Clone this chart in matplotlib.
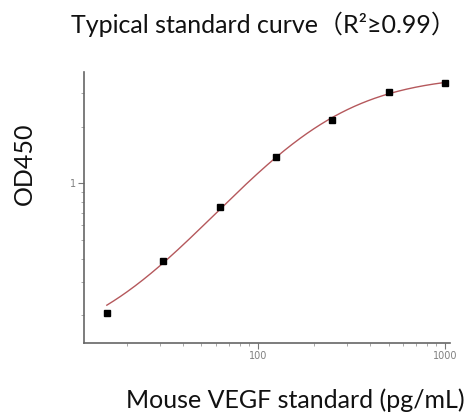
import numpy as np
import matplotlib
matplotlib.use("Agg")
import matplotlib.pyplot as plt
from matplotlib.ticker import LogLocator, FixedLocator, NullFormatter, FixedFormatter

# Data
conc = [15.625, 31.25, 62.5, 125, 250, 500, 1000]
od450 = [0.206, 0.390, 0.748, 1.38, 2.17, 3.06, 3.39]

title = "Typical standard curve\uff08R\u00b2\u22650.99\uff09"
xlabel = "Mouse VEGF standard (pg/mL)"
ylabel = "OD450"
x_major = [100, 1000]
x_major_labels = ["100", "1000"]
y_major = [1]
y_major_labels = ["1"]

# 4-parameter logistic fit (unweighted, linear space): for fixed B, C the
# model y = A*g + D*(1-g) is linear in A and D
x = np.array(conc, float)
y = np.array(od450, float)
best = None
for B in np.linspace(0.5, 3.0, 126):
    for lc in np.linspace(1.5, 3.5, 201):
        C = 10 ** lc
        g = 1.0 / (1.0 + (x / C) ** B)
        M = np.column_stack([g, 1 - g])
        coef, *_ = np.linalg.lstsq(M, y, rcond=None)
        res = M @ coef
        err = np.sum((res - y) ** 2)
        if best is None or err < best[0]:
            best = (err, B, C, coef)
_, B, C, (A, D) = best
xs = np.logspace(np.log10(conc[0]), np.log10(conc[-1]), 300)
gs = 1.0 / (1.0 + (xs / C) ** B)
ys = A * gs + D * (1 - gs)

fam = ["Lato", "Noto Sans CJK SC", "DejaVu Sans"]

fig = plt.figure(figsize=(4.66, 4.15), dpi=100)
ax = fig.add_axes([84 / 466, 1 - 343 / 415, (450 - 84) / 466, (343 - 72) / 415])

ax.plot(xs, ys, color="#b5585c", lw=1.0, zorder=2)
ax.plot(conc, od450, "s", color="black", ms=4.5, zorder=3)

ax.set_xscale("log")
ax.set_yscale("log")
ax.set_xlim(11.8, 1064)
ax.set_ylim(0.143, 3.89)

ax.xaxis.set_major_locator(FixedLocator(x_major))
ax.xaxis.set_major_formatter(FixedFormatter(x_major_labels))
ax.xaxis.set_minor_locator(LogLocator(base=10, subs=np.arange(2, 10)))
ax.xaxis.set_minor_formatter(NullFormatter())
ax.yaxis.set_major_locator(FixedLocator(y_major))
ax.yaxis.set_major_formatter(FixedFormatter(y_major_labels))
ax.yaxis.set_minor_locator(LogLocator(base=10, subs=np.arange(2, 10)))
ax.yaxis.set_minor_formatter(NullFormatter())

for s in ["top", "right"]:
    ax.spines[s].set_visible(False)
for s in ["left", "bottom"]:
    ax.spines[s].set_color("#666666")
    ax.spines[s].set_linewidth(1.2)
ax.tick_params(which="major", length=4, width=0.8, color="#777777",
               labelsize=7, labelcolor="#808080", pad=2)
ax.tick_params(which="minor", length=2.5, width=0.6, color="#999999")

fig.text(263 / 466, 1 - 24 / 415, title, ha="center", va="center",
         fontsize=18, family=fam, color="#111111")
fig.text(295 / 466, 1 - 400 / 415, xlabel, ha="center", va="center",
         fontsize=18, family=fam, color="#111111")
fig.text(24 / 466, 1 - 164 / 415, ylabel, ha="center", va="center",
         rotation=90, fontsize=18, family=fam, color="#111111")

fig.savefig("out.png", dpi=100)
